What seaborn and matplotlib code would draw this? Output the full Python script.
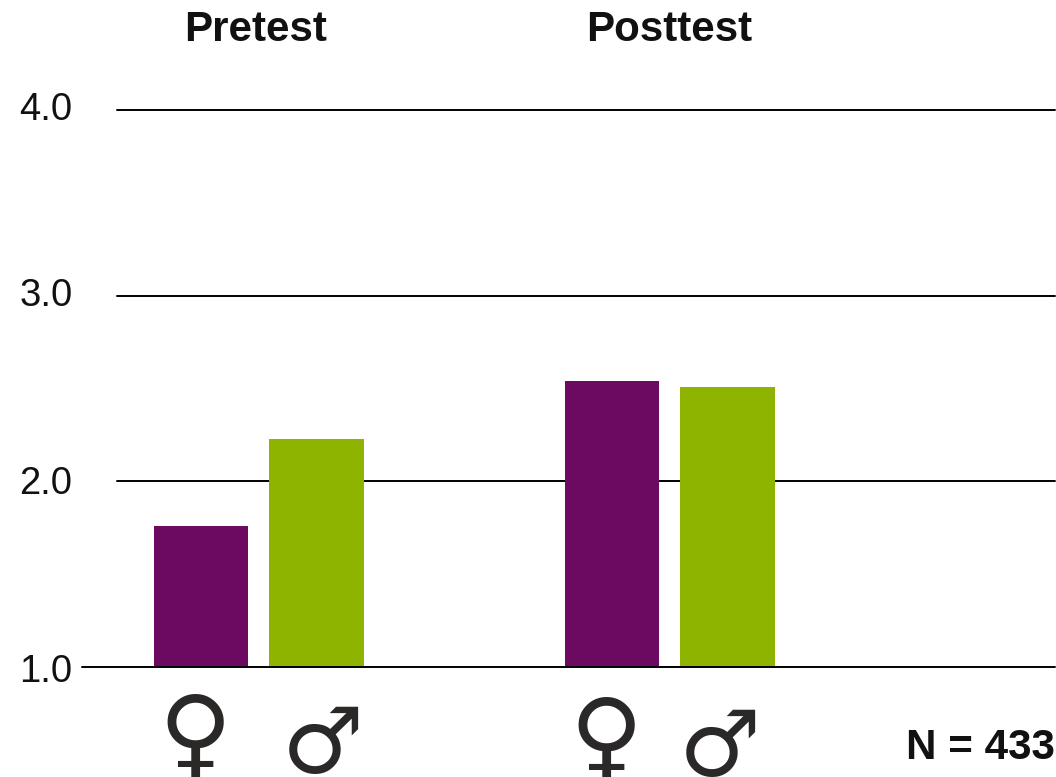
import matplotlib
matplotlib.use("Agg")
import matplotlib.pyplot as plt
from matplotlib.transforms import ScaledTranslation
import pandas as pd
import seaborn as sns

tests = ["Pretest", "Posttest"]
genders = ["Female", "Male"]
female_scores = [1.76, 2.54]
male_scores = [2.23, 2.51]
y_ticks = [1.0, 2.0, 3.0, 4.0]
gender_glyphs = ["\u2640", "\u2642"]
sample_label = "N = 433"

df = pd.DataFrame({
    "test": tests * 2,
    "gender": [genders[0]] * 2 + [genders[1]] * 2,
    "score": female_scores + male_scores,
})

sns.set_theme(style="white")
plt.rcParams["font.family"] = ["Liberation Sans", "DejaVu Sans"]

W, H = 1056, 777
fig = plt.figure(figsize=(W / 100, H / 100), dpi=100)
ax = fig.add_axes([117 / W, 1 - 667 / H, (1055 - 117) / W, (667 - 110) / H])

sns.barplot(data=df, x="test", y="score", hue="gender", order=tests, hue_order=genders,
            palette=["#6b0a60", "#8fb400"], width=0.562, gap=0.182, saturation=1,
            linewidth=0, legend=False, ax=ax, zorder=3)

ax.set_xlim(-0.345, 1.937)
ax.set_ylim(1, 4)
ax.set_xlabel("")
ax.set_ylabel("")
for s in ax.spines.values():
    s.set_visible(False)

for v in y_ticks:
    # the baseline runs further left, up to its tick label
    left = -35 / 938 if v == 1.0 else 0
    ax.axhline(v, xmin=left, color="black", lw=1.4, clip_on=False, zorder=4 if v == 1.0 else 1)

ax.set_yticks(y_ticks)
ax.set_yticklabels([f"{v:.1f}" for v in y_ticks], fontsize=27.5, color="#111111")
ax.tick_params(axis="y", length=0, pad=32)
label_shift_px = [-1, 1, 4, 4]
for lab, dy in zip(ax.get_yticklabels(), label_shift_px):
    lab.set_transform(lab.get_transform() + ScaledTranslation(0, dy / 100, fig.dpi_scale_trans))

ax.xaxis.tick_top()
ax.set_xticks(range(len(tests)))
ax.set_xticklabels(tests, fontsize=30.3, fontweight="bold", color="#111111")
ax.tick_params(axis="x", length=0, pad=43)
title_shift_px = [-3, -1]
for lab, dx in zip(ax.get_xticklabels(), title_shift_px):
    lab.set_transform(lab.get_transform() + ScaledTranslation(dx / 100, 0, fig.dpi_scale_trans))

# gender symbols under each bar pair: (x offset from group, y in axes fraction, size)
glyph_place = [
    [(-0.156, -0.130, 72), (0.156, -0.1445, 66)],
    [(-0.156, -0.134, 72), (0.122, -0.1486, 66)],
]
tr = ax.get_xaxis_transform()
for i, row in enumerate(glyph_place):
    for g, (dx, yy, size) in zip(gender_glyphs, row):
        ax.text(i + dx, yy, g, transform=tr, ha="center", va="center", fontsize=size,
                family="DejaVu Sans", fontweight="bold", color="#2b2828", clip_on=False)

ax.text(1055 / W, 1 - 748 / H, sample_label, transform=fig.transFigure, ha="right", va="center",
        fontsize=30.3, fontweight="bold", color="#111111")

fig.savefig("out.png", dpi=100)
